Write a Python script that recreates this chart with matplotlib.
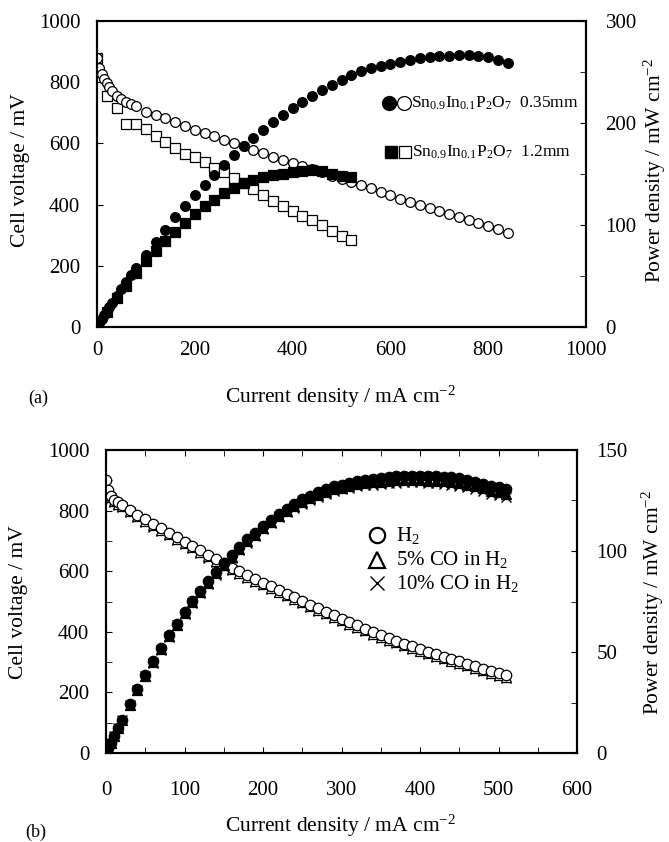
import matplotlib
matplotlib.use("Agg")
import matplotlib.pyplot as plt
from matplotlib.ticker import MultipleLocator

plt.rcParams['font.family'] = ['Liberation Serif', 'DejaVu Serif']
plt.rcParams['mathtext.fontset'] = 'custom'
plt.rcParams['mathtext.rm'] = 'Liberation Serif'
plt.rcParams['mathtext.default'] = 'regular'

# ---------------- Panel (a) data ----------------
i_035 = [0, 5, 10, 15, 20, 25, 30, 40, 50, 60, 70, 80, 100, 120, 140, 160, 180, 200,
         220, 240, 260, 280, 300, 320, 340, 360, 380, 400, 420, 440, 460, 480, 500,
         520, 540, 560, 580, 600, 620, 640, 660, 680, 700, 720, 740, 760, 780, 800,
         820, 840]
v_035 = [880, 848, 826, 810, 799, 785, 772, 755, 745, 736, 728, 721, 704, 692, 682,
         671, 657, 645, 634, 623, 612, 601, 590, 579, 567, 557, 546, 536, 525, 515,
         505, 495, 485, 475, 464, 453, 441, 430, 419, 409, 400, 390, 380, 369, 361,
         351, 341, 331, 320, 308]
p_035 = [0, 4.2, 8.3, 12.2, 16.0, 19.6, 23.2, 30.2, 37.3, 44.2, 51.0, 57.7, 70.4,
         83.0, 95.5, 107.4, 118.3, 129.0, 139.5, 149.5, 159.1, 168.3, 177.0, 185.3,
         192.8, 200.5, 207.5, 214.4, 220.5, 226.6, 232.3, 237.6, 242.5, 247.0, 250.6,
         253.7, 256.0, 258.0, 260.0, 262.0, 264.0, 265.0, 266.0, 266.0, 267.0, 267.0,
         266.0, 265.0, 262.0, 259.0]

i_12 = [0, 20, 40, 60, 80, 100, 120, 140, 160, 180, 200, 220, 240, 260, 280, 300,
        320, 340, 360, 380, 400, 420, 440, 460, 480, 500, 520]
v_12 = [880, 755, 717, 665, 665, 647, 625, 605, 585, 565, 555, 538, 520, 505, 486,
        470, 451, 433, 413, 395, 380, 364, 350, 332, 313, 297, 283]
p_12 = [0, 15.1, 28.7, 39.9, 53.2, 64.7, 75.0, 84.7, 93.6, 101.7, 111.0, 118.4,
        124.8, 131.3, 136.1, 141.0, 144.3, 147.2, 148.7, 150.1, 152.0, 152.9, 154.0,
        152.7, 150.2, 148.5, 147.2]

# ---------------- Panel (b) data ----------------
i_b = [0, 3, 6, 10, 15, 20, 30, 40, 50, 60, 70, 80, 90, 100, 110, 120, 130, 140,
       150, 160, 170, 180, 190, 200, 210, 220, 230, 240, 250, 260, 270, 280, 290,
       300, 310, 320, 330, 340, 350, 360, 370, 380, 390, 400, 410, 420, 430, 440,
       450, 460, 470, 480, 490, 500, 510]
v_h2 = [900, 868, 848, 836, 828, 820, 803, 787, 771, 756, 741, 727, 712, 698, 684,
        669, 654, 640, 626, 612, 600, 587, 574, 562, 550, 538, 526, 514, 502, 490,
        478, 466, 455, 443, 432, 421, 410, 399, 389, 379, 370, 361, 352, 343, 334,
        326, 318, 310, 302, 294, 286, 278, 270, 263, 256]
p_h2 = [0, 2.6, 5.1, 8.4, 12.4, 16.4, 24.1, 31.5, 38.6, 45.4, 51.9, 58.2, 64.1,
        69.8, 75.2, 80.3, 85.0, 89.6, 93.9, 97.9, 102.0, 105.7, 109.1, 112.4, 115.5,
        118.4, 121.0, 123.4, 125.5, 127.4, 129.1, 130.5, 132.0, 132.9, 133.9, 134.7,
        135.3, 135.7, 136.2, 136.4, 136.9, 137.2, 137.3, 137.2, 136.9, 136.9, 136.7,
        136.4, 135.9, 135.2, 134.4, 133.4, 132.3, 131.5, 130.6]
v_co5 = [878, 860, 844, 832, 823, 815, 798, 782, 766, 751, 736, 722, 707, 693, 679,
         664, 649, 635, 621, 607, 595, 582, 569, 557, 545, 533, 521, 509, 497, 485,
         473, 461, 450, 438, 427, 416, 405, 394, 384, 374, 365, 356, 347, 338, 329,
         321, 313, 305, 297, 289, 281, 273, 265, 258, 251]
p_co5 = [0, 2.6, 5.1, 8.3, 12.3, 16.3, 23.9, 31.3, 38.3, 45.1, 51.5, 57.8, 63.6,
         69.3, 74.7, 79.7, 84.4, 88.9, 93.2, 97.1, 101.2, 104.8, 108.1, 111.4, 114.5,
         117.3, 119.8, 122.2, 124.3, 126.1, 127.7, 129.1, 130.5, 131.4, 132.4, 133.1,
         133.7, 134.0, 134.4, 134.6, 135.1, 135.3, 135.3, 135.2, 134.9, 134.8, 134.6,
         134.2, 133.7, 132.9, 132.1, 131.0, 129.9, 129.0, 128.0]
v_co10 = [862, 852, 840, 828, 819, 811, 794, 778, 762, 747, 732, 718, 703, 689, 675,
          660, 645, 631, 617, 604, 592, 579, 566, 554, 542, 530, 518, 506, 494, 482,
          470, 458, 447, 435, 424, 413, 402, 391, 381, 371, 362, 353, 344, 335, 326,
          318, 310, 302, 294, 286, 278, 270, 262, 255, 248]
p_co10 = [0, 2.6, 5.0, 8.3, 12.3, 16.2, 23.8, 31.1, 38.1, 44.8, 51.2, 57.4, 63.3,
          68.9, 74.3, 79.2, 83.9, 88.3, 92.6, 96.6, 100.6, 104.2, 107.5, 110.8, 113.8,
          116.6, 119.1, 121.4, 123.5, 125.3, 126.9, 128.2, 129.6, 130.5, 131.4, 132.2,
          132.7, 132.9, 133.4, 133.6, 133.9, 134.1, 134.2, 134.0, 133.7, 133.6, 133.3,
          132.9, 132.3, 131.6, 130.7, 129.6, 128.4, 127.5, 126.5]

label_a1 = r"Sn$_{0.9}$In$_{0.1}$P$_{2}$O$_{7}$  0.35mm"
label_a2 = r"Sn$_{0.9}$In$_{0.1}$P$_{2}$O$_{7}$  1.2mm"
label_b = [r"H$_{2}$", r"5% CO in H$_{2}$", r"10% CO in H$_{2}$"]

W, H = 669, 842
fig = plt.figure(figsize=(W / 100, H / 100), dpi=100)


def px_axes(l, t, r, b):
    return fig.add_axes([l / W, (H - b) / H, (r - l) / W, (b - t) / H])


TICK_FS = 15
LAB_FS = 15.5

# ================= Panel (a) =================
ax = px_axes(97, 21, 586, 327)
ax2 = ax.twinx()
ax.set_xlim(0, 1000)
ax.set_ylim(0, 1000)
ax2.set_ylim(0, 300)

ms = 7
ax.plot(i_12, v_12, ls='none', marker='s', ms=ms, mfc='white', mec='black', mew=0.9, zorder=3)
ax.plot(i_035, v_035, ls='none', marker='o', ms=ms, mfc='white', mec='black', mew=0.9, zorder=3)
ax2.plot(i_12, p_12, ls='none', marker='s', ms=ms, mfc='black', mec='black', mew=0.9, zorder=4)
ax2.plot(i_035, p_035, ls='none', marker='o', ms=ms, mfc='black', mec='black', mew=0.9, zorder=4)

ax.xaxis.set_major_locator(MultipleLocator(200))
ax.yaxis.set_major_locator(MultipleLocator(200))
ax2.yaxis.set_major_locator(MultipleLocator(100))
ax2.yaxis.set_minor_locator(MultipleLocator(50))
ax.tick_params(axis='x', direction='in', length=0, pad=10, labelsize=TICK_FS)
ax.tick_params(axis='y', direction='in', length=4, pad=12, labelsize=TICK_FS)
ax2.tick_params(axis='y', which='both', direction='in', length=4, pad=14, labelsize=TICK_FS)
for a in (ax, ax2):
    for s in a.spines.values():
        s.set_linewidth(1.5)

fig.text(21 / W, 1 - 170 / H, "Cell voltage / mV", rotation=90, ha='center', va='center', fontsize=LAB_FS)
fig.text(655 / W, 1 - 170 / H, r"Power density / mW cm$^{-2}$", rotation=90, ha='center', va='center', fontsize=LAB_FS)
fig.text(341 / W, 1 - 397 / H, r"Current density / mA cm$^{-2}$", ha='center', va='center', fontsize=LAB_FS)
fig.text(38 / W, 1 - 398 / H, "(a)", ha='center', va='center', fontsize=13)

# legend (a)
leg_tr = ax.transAxes
ax.plot([0.597], [0.732], transform=leg_tr, marker='o', ms=10, mfc='black', mec='black', ls='none', clip_on=False)
ax.plot([0.628], [0.732], transform=leg_tr, marker='o', ms=10, mfc='white', mec='black', mew=0.9, ls='none', clip_on=False)
ax.text(0.642, 0.732, label_a1, transform=leg_tr, ha='left', va='center', fontsize=12.5)
ax.plot([0.601], [0.572], transform=leg_tr, marker='s', ms=9, mfc='black', mec='black', ls='none', clip_on=False)
ax.plot([0.630], [0.572], transform=leg_tr, marker='s', ms=9, mfc='white', mec='black', mew=0.9, ls='none', clip_on=False)
ax.text(0.644, 0.572, label_a2, transform=leg_tr, ha='left', va='center', fontsize=12.5)

# ================= Panel (b) =================
bx = px_axes(106, 450, 577, 753)
bx2 = bx.twinx()
bx.set_xlim(0, 600)
bx.set_ylim(0, 1000)
bx2.set_ylim(0, 150)

msb = 7.5
bx.plot(i_b, v_co10, ls='none', marker='x', ms=msb, mec='black', mew=1.0, zorder=3)
bx.plot(i_b, v_co5, ls='none', marker='^', ms=msb, mfc='white', mec='black', mew=0.9, zorder=3)
bx.plot(i_b, v_h2, ls='none', marker='o', ms=msb, mfc='white', mec='black', mew=0.9, zorder=3)
bx2.plot(i_b, p_co10, ls='none', marker='x', ms=msb, mec='black', mew=1.0, zorder=4)
bx2.plot(i_b, p_co5, ls='none', marker='^', ms=msb, mfc='black', mec='black', mew=0.9, zorder=4)
bx2.plot(i_b, p_h2, ls='none', marker='o', ms=msb, mfc='black', mec='black', mew=0.9, zorder=4)

bx.xaxis.set_major_locator(MultipleLocator(100))
bx.xaxis.set_minor_locator(MultipleLocator(50))
bx.yaxis.set_major_locator(MultipleLocator(200))
bx.yaxis.set_minor_locator(MultipleLocator(100))
bx2.yaxis.set_major_locator(MultipleLocator(50))
bx2.yaxis.set_minor_locator(MultipleLocator(25))
bx.tick_params(axis='x', which='both', direction='in', length=4, top=True, pad=20, labelsize=TICK_FS)
bx.tick_params(axis='y', which='both', direction='in', length=4, pad=12, labelsize=TICK_FS)
bx2.tick_params(axis='y', which='both', direction='in', length=4, pad=14, labelsize=TICK_FS)
for a in (bx, bx2):
    for s in a.spines.values():
        s.set_linewidth(1.5)

fig.text(19 / W, 1 - 602 / H, "Cell voltage / mV", rotation=90, ha='center', va='center', fontsize=LAB_FS)
fig.text(653 / W, 1 - 602 / H, r"Power density / mW cm$^{-2}$", rotation=90, ha='center', va='center', fontsize=LAB_FS)
fig.text(341 / W, 1 - 826 / H, r"Current density / mA cm$^{-2}$", ha='center', va='center', fontsize=LAB_FS)
fig.text(36 / W, 1 - 832 / H, "(b)", ha='center', va='center', fontsize=13)

# legend (b)
btr = bx.transAxes
mk = ['o', '^', 'x']
ys = [0.719, 0.637, 0.561]
for m, y, lab in zip(mk, ys, label_b):
    if m == 'x':
        bx.plot([0.575], [y], transform=btr, marker=m, ms=10, mec='black', mew=1.0, ls='none', clip_on=False)
    else:
        bx.plot([0.575], [y], transform=btr, marker=m, ms=11, mfc='white', mec='black', mew=1.6, ls='none', clip_on=False)
    bx.text(0.616, y, lab, transform=btr, ha='left', va='center', fontsize=15)

fig.savefig("out.png", dpi=100)
